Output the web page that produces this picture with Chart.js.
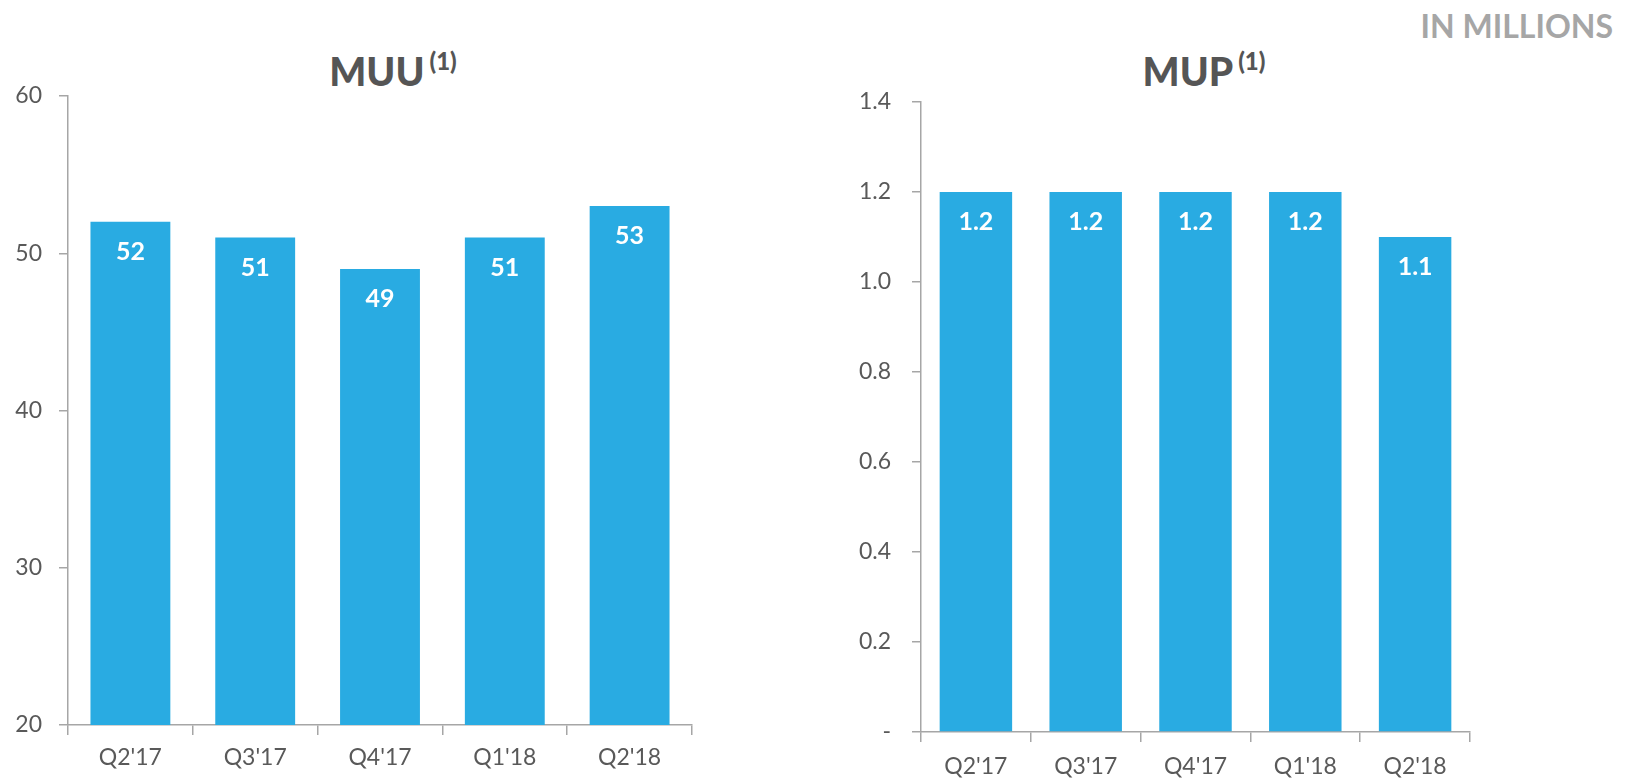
<!DOCTYPE html>
<html>
<head>
<meta charset="utf-8">
<script src="https://cdn.jsdelivr.net/npm/chart.js@4.4.1/dist/chart.umd.min.js"></script>
<style>
  html, body { margin: 0; padding: 0; background: #fff; }
  body { width: 1632px; height: 781px; position: relative; overflow: hidden; font-family: Lato, sans-serif; }
  .box { position: absolute; top: 0; height: 781px; }
  .title { position: absolute; color: #555; font-weight: 900; font-size: 39px; line-height: 1; white-space: nowrap; transform: translateX(-50%); }
  .title sup { font-size: 24px; font-weight: 900; vertical-align: 0; position: relative; top: -16px; margin-left: 5px; }
  #unit { position: absolute; right: 19px; top: 6px; color: #a6a6a6; font-weight: 700; font-size: 32px; }
</style>
</head>
<body>
<div id="unit">IN MILLIONS</div>
<div class="title" style="left:393px; top:52px;">MUU<sup>(1)</sup></div>
<div class="title" style="left:1204px; top:52px;">MUP<sup>(1)</sup></div>
<div class="box" style="left:0; width:740px;"><canvas id="muu"></canvas></div>
<div class="box" style="left:780px; width:852px;"><canvas id="mup"></canvas></div>
<script>
const quarters = ["Q2'17", "Q3'17", "Q4'17", "Q1'18", "Q2'18"];
const muuValues = [52, 51, 49, 51, 53];
const mupValues = [1.2, 1.2, 1.2, 1.2, 1.1];
const muuRange = [20, 60, 10];
const mupRange = [0, 1.4, 0.2];

const barColor = '#29abe2';
const axisColor = '#a6a6a6';
const textColor = '#595959';

// white value labels just under the top of each bar
const barLabels = {
  id: 'barLabels',
  afterDatasetsDraw(chart, args, opts) {
    const ctx = chart.ctx;
    const meta = chart.getDatasetMeta(0);
    const data = chart.data.datasets[0].data;
    ctx.save();
    ctx.fillStyle = '#fff';
    ctx.font = 'bold 25px Lato';
    ctx.textAlign = 'center';
    ctx.textBaseline = 'middle';
    meta.data.forEach((bar, i) => {
      ctx.fillText(opts.format(data[i]), bar.x, bar.y + opts.offset);
    });
    ctx.restore();
  }
};

function makeChart(id, values, range, cfg) {
  return new Chart(document.getElementById(id), {
    type: 'bar',
    data: {
      labels: quarters,
      datasets: [{
        data: values,
        backgroundColor: barColor,
        borderWidth: 0,
        barPercentage: cfg.barPct,
        categoryPercentage: 1,
        clip: 0
      }]
    },
    options: {
      responsive: true,
      maintainAspectRatio: false,
      animation: false,
      layout: { padding: { left: 0, right: cfg.padRight, top: cfg.padTop, bottom: 0 } },
      plugins: {
        legend: { display: false },
        tooltip: { enabled: false },
        barLabels: { format: cfg.labelFormat, offset: 30 }
      },
      scales: {
        x: {
          grid: { drawOnChartArea: false, drawTicks: true, tickLength: 10, color: axisColor, lineWidth: 1.5 },
          border: { color: axisColor, width: 1.5 },
          ticks: { color: textColor, font: { family: 'Lato', size: 23 }, padding: cfg.xPad, maxRotation: 0 },
          afterFit(scale) { scale.height = cfg.xHeight; }
        },
        y: {
          min: range[0],
          max: range[1],
          grid: { drawOnChartArea: false, drawTicks: true, tickLength: 9, color: axisColor, lineWidth: 1.5 },
          border: { color: axisColor, width: 1.5 },
          ticks: { stepSize: range[2], color: textColor, font: { family: 'Lato', size: 23 }, padding: cfg.yPad, callback: cfg.tickFormat },
          afterFit(scale) { scale.width = cfg.yWidth; }
        }
      }
    },
    plugins: [barLabels]
  });
}

makeChart('muu', muuValues, muuRange, {
  barPct: 0.64, padRight: 48, padTop: 96, xHeight: 56, yWidth: 68, xPad: 9, yPad: 17,
  labelFormat: v => String(v),
  tickFormat: v => String(v)
});

makeChart('mup', mupValues, mupRange, {
  barPct: 0.66, padRight: 162, padTop: 102, xHeight: 49, yWidth: 141, xPad: 11, yPad: 21,
  labelFormat: v => v.toFixed(1),
  tickFormat: v => (Math.abs(v) < 1e-9 ? '-' : v.toFixed(1))
});
</script>
</body>
</html>
